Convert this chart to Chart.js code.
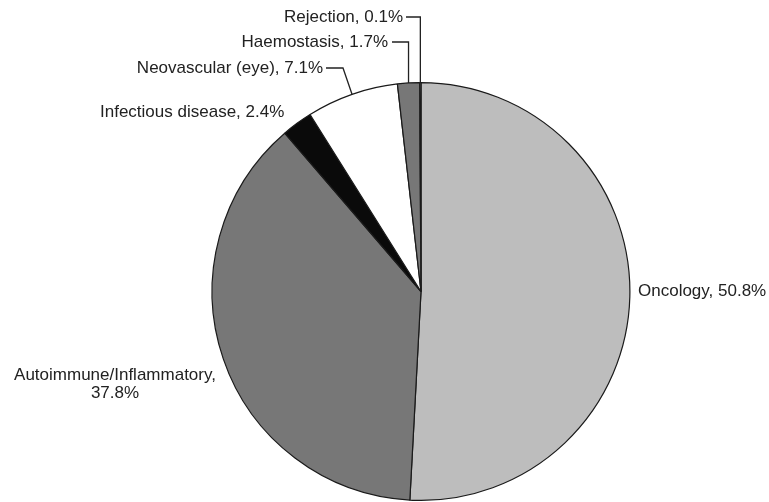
<!DOCTYPE html>
<html lang="EN">
    <head>
        <title>Therapeutic areas</title>
        <meta charset="UTF-8">
        <style>
            html, body { margin: 0; padding: 0; background: #ffffff; }
            #wrap { width: 769px; height: 502px; position: relative; }
        </style>
    </head>
    <body>
        <div id="wrap"><canvas id="pieChart"></canvas></div>
        <script src="https://cdn.jsdelivr.net/npm/chart.js@4/dist/chart.umd.min.js"></script>
        <script>
            // data, clockwise from 12 o'clock
            let areas = ["Oncology", "Autoimmune/Inflammatory", "Infectious disease", "Neovascular (eye)", "Haemostasis", "Rejection"];
            let shares = [50.8, 37.8, 2.4, 7.1, 1.7, 0.1];
            let fills = ["#bdbdbd", "#777777", "#0a0a0a", "#ffffff", "#777777", "#d8d8d8"];

            // where each label sits; leader = elbow lines from the slice edge
            let labelPos = [
                { x: 638, y: 291, align: "left" },
                { x: 115, y: 375, align: "center", split: true },
                { x: 100, y: 112, align: "left" },
                { x: 323, y: 68, align: "right", leader: { ex: 343, ey: 68, endX: 326 } },
                { x: 388, y: 42, align: "right", leader: { ey: 42, endX: 392 } },
                { x: 403, y: 17, align: "right", leader: { ey: 17, endX: 406 } }
            ];

            const sliceLabels = {
                id: "sliceLabels",
                afterDatasetsDraw(chart) {
                    let ctx = chart.ctx;
                    let arcs = chart.getDatasetMeta(0).data;
                    ctx.save();
                    ctx.fillStyle = "#222";
                    ctx.strokeStyle = "#222";
                    ctx.lineWidth = 1.3;
                    ctx.font = "17px 'Liberation Sans', Arial, sans-serif";
                    ctx.textBaseline = "middle";
                    for (let i = 0; i < areas.length; i++) {
                        let p = labelPos[i];
                        let arc = arcs[i].getProps(["x", "y", "startAngle", "endAngle", "outerRadius"], true);
                        let mid = (arc.startAngle + arc.endAngle) / 2;
                        let px = arc.x + Math.cos(mid) * arc.outerRadius;
                        let py = arc.y + Math.sin(mid) * arc.outerRadius;
                        if (p.leader) {
                            let ex = p.leader.ex !== undefined ? p.leader.ex : px;
                            ctx.beginPath();
                            ctx.moveTo(px, py);
                            ctx.lineTo(ex, p.leader.ey);
                            ctx.lineTo(p.leader.endX, p.leader.ey);
                            ctx.stroke();
                        }
                        ctx.textAlign = p.align;
                        if (p.split) {
                            ctx.fillText(areas[i] + ",", p.x, p.y);
                            ctx.fillText(shares[i] + "%", p.x, p.y + 18);
                        } else {
                            ctx.fillText(areas[i] + ", " + shares[i] + "%", p.x, p.y);
                        }
                    }
                    ctx.restore();
                }
            };

            let pieChart = new Chart("pieChart", {
                type: "pie",
                data: {
                    labels: areas,
                    datasets: [{
                        data: shares,
                        backgroundColor: fills,
                        borderColor: "#1a1a1a",
                        borderWidth: 1.2
                    }]
                },
                options: {
                    responsive: true,
                    maintainAspectRatio: false,
                    animation: false,
                    layout: {
                        padding: { top: 82, bottom: 1, left: 211, right: 138 }
                    },
                    plugins: {
                        legend: { display: false },
                        tooltip: { enabled: false }
                    }
                },
                plugins: [sliceLabels]
            });
        </script>
    </body>
</html>
